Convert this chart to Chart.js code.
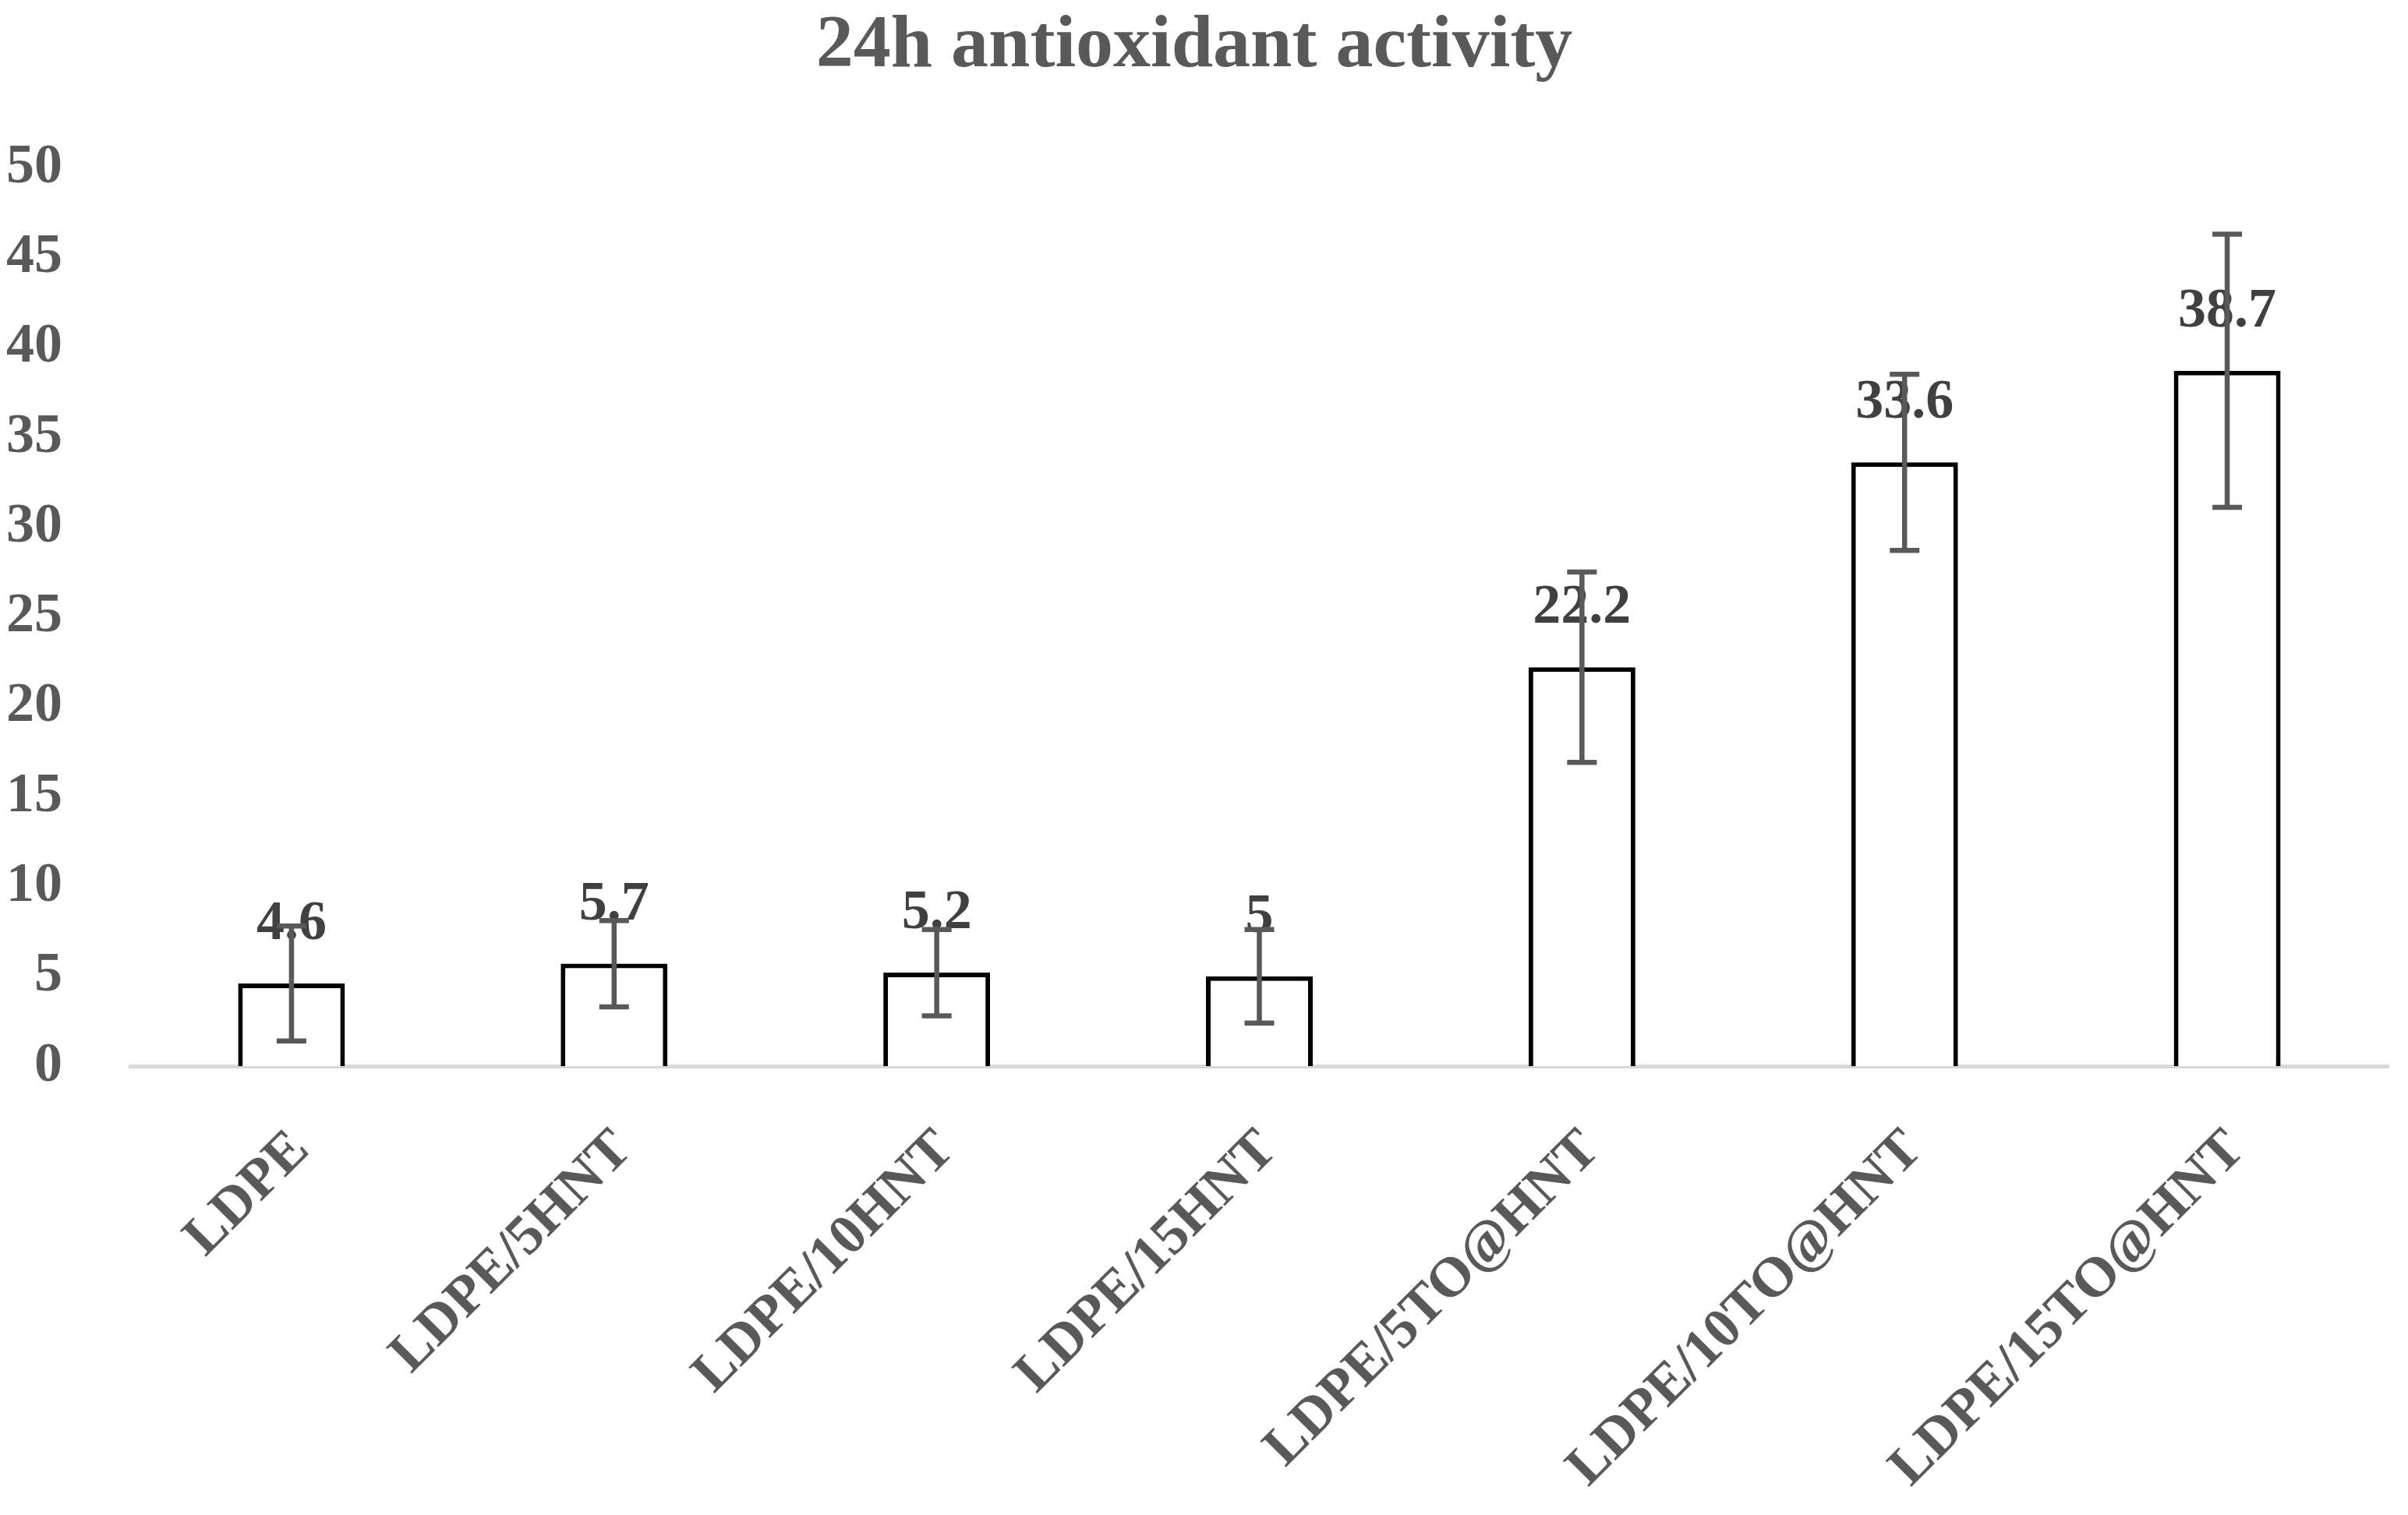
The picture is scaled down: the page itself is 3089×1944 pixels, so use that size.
<!DOCTYPE html>
<html>
<head>
<meta charset="utf-8">
<style>
html,body{margin:0;padding:0;background:#ffffff;}
#wrap{width:3089px;height:1944px;position:relative;}
</style>
<script src="https://cdn.jsdelivr.net/npm/chart.js@4.4.1/dist/chart.umd.min.js"></script>
</head>
<body>
<div id="wrap"><canvas id="c" width="3089" height="1944"></canvas></div>
<script>
const titleText = '24h antioxidant activity';
const categories = ['LDPE', 'LDPE/5HNT', 'LDPE/10HNT', 'LDPE/15HNT', 'LDPE/5TO@HNT', 'LDPE/10TO@HNT', 'LDPE/15TO@HNT'];
const values = [4.6, 5.7, 5.2, 5, 22.2, 33.6, 38.7];
const errors = [3.2, 2.4, 2.4, 2.6, 5.3, 4.9, 7.6];
const valueLabels = ['4.6', '5.7', '5.2', '5', '22.2', '33.6', '38.7'];
const yTicks = [0, 5, 10, 15, 20, 25, 30, 35, 40, 45, 50];

const FONT = '"Liberation Serif", "Times New Roman", serif';

const overlayPlugin = {
  id: 'overlay',
  afterDatasetsDraw(chart) {
    const ctx = chart.ctx;
    const yScale = chart.scales.y;
    const meta = chart.getDatasetMeta(0);
    ctx.save();
    ctx.font = 'bold 72px ' + FONT;
    ctx.fillStyle = '#404040';
    ctx.textAlign = 'center';
    ctx.textBaseline = 'alphabetic';
    meta.data.forEach((bar, i) => {
      ctx.fillText(valueLabels[i], bar.x, bar.y - 57);
    });
    ctx.strokeStyle = '#595959';
    ctx.lineWidth = 6.5;
    ctx.lineCap = 'butt';
    meta.data.forEach((bar, i) => {
      const top = yScale.getPixelForValue(values[i] + errors[i]);
      const bot = yScale.getPixelForValue(values[i] - errors[i]);
      ctx.beginPath();
      ctx.moveTo(bar.x, top);
      ctx.lineTo(bar.x, bot);
      ctx.moveTo(bar.x - 19, top);
      ctx.lineTo(bar.x + 19, top);
      ctx.moveTo(bar.x - 19, bot);
      ctx.lineTo(bar.x + 19, bot);
      ctx.stroke();
    });
    ctx.restore();
  }
};

new Chart(document.getElementById('c'), {
  type: 'bar',
  data: {
    labels: categories,
    datasets: [{
      data: values,
      backgroundColor: '#ffffff',
      borderColor: '#000000',
      borderWidth: 6,
      barPercentage: 0.331,
      categoryPercentage: 1.0
    }]
  },
  options: {
    responsive: false,
    animation: false,
    devicePixelRatio: 1,
    layout: { padding: { left: 0, right: 25, top: 0, bottom: 0 } },
    plugins: {
      legend: { display: false },
      tooltip: { enabled: false },
      title: {
        display: true,
        text: titleText,
        color: '#595959',
        font: { family: FONT, size: 96, weight: 'bold', lineHeight: 1.2 },
        padding: { top: 3, bottom: 97 }
      }
    },
    scales: {
      x: {
        grid: { display: false },
        border: { display: true, color: '#d9d9d9', width: 5 },
        ticks: {
          autoSkip: false,
          minRotation: 45,
          maxRotation: 45,
          padding: 58,
          labelOffset: 12,
          color: '#595959',
          font: { family: FONT, size: 72, weight: 'bold', lineHeight: 1.2 }
        },
        afterFit(scale) { scale.height = 576; }
      },
      y: {
        min: 0,
        max: 50,
        grid: { display: false },
        border: { display: false },
        ticks: {
          stepSize: 5,
          padding: 79,
          color: '#595959',
          font: { family: FONT, size: 72, weight: 'bold', lineHeight: 1.2 }
        },
        afterBuildTicks(scale) { scale.ticks = yTicks.map(v => ({ value: v })); },
        afterFit(scale) { scale.width = 167; }
      }
    }
  },
  plugins: [overlayPlugin]
});
</script>
</body>
</html>
